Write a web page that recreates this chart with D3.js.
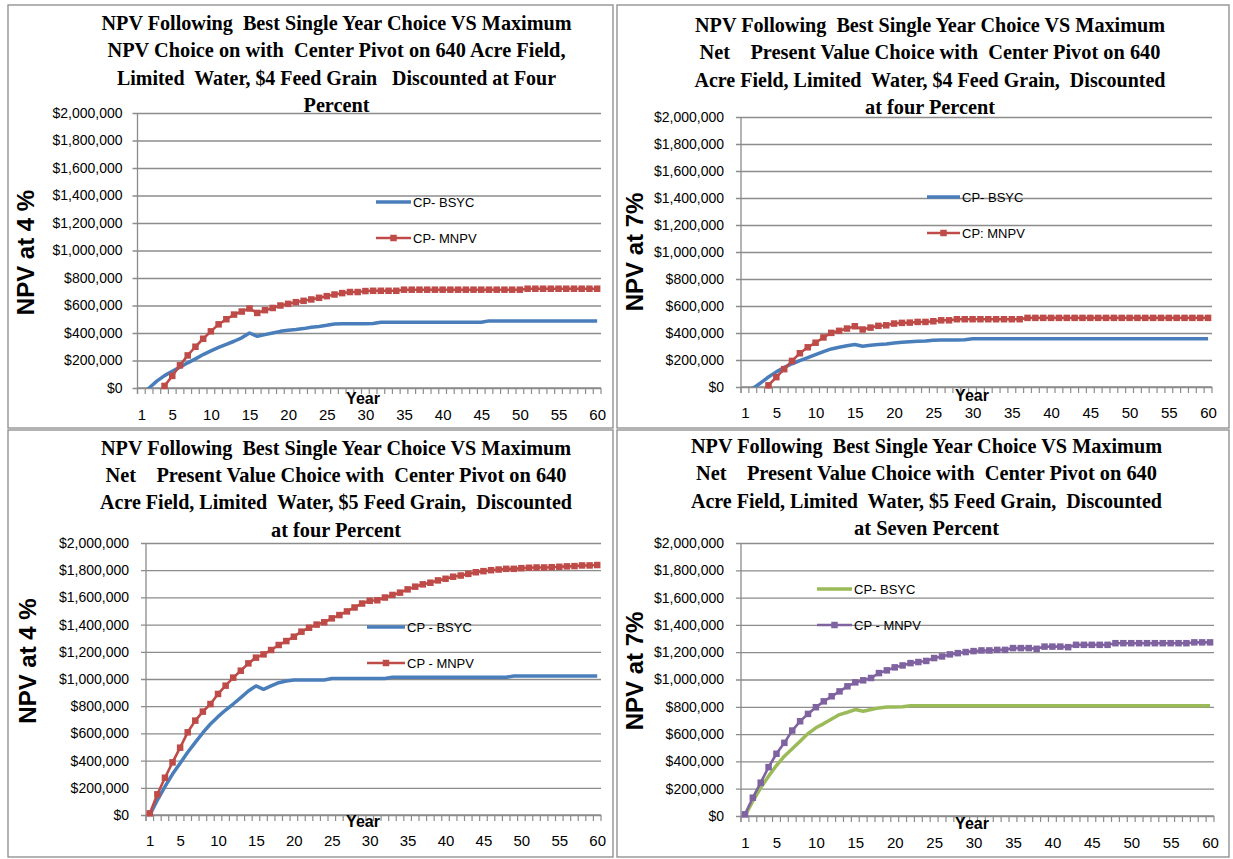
<!DOCTYPE html>
<html><head><meta charset="utf-8">
<script src="https://cdn.jsdelivr.net/npm/d3@7/dist/d3.min.js"></script>
<style>
body{margin:0;background:#fff;}
svg{display:block;}
text{white-space:pre;}
</style></head><body>
<svg id="c" width="1233" height="859"></svg>
<script>
// ---------- DATA ----------
const years = [1,2,3,4,5,6,7,8,9,10,11,12,13,14,15,16,17,18,19,20,21,22,23,24,25,26,27,28,29,30,
  31,32,33,34,35,36,37,38,39,40,41,42,43,44,45,46,47,48,49,50,51,52,53,54,55,56,57,58,59,60];
const xTickLabels = [1,5,10,15,20,25,30,35,40,45,50,55,60];
const yTicks = [0,200000,400000,600000,800000,1000000,1200000,1400000,1600000,1800000,2000000];

const p1Bsyc = [-45000,0,50000,90000,122000,152000,183000,212000,243000,270000,
  295000,318000,340000,365000,400000,376000,388000,400000,412000,420000,
  425000,432000,442000,448000,456000,466000,468000,468000,468000,468000,
  469000,478000,478000,478000,478000,478000,478000,478000,478000,478000,
  478000,478000,478000,478000,478000,488000,488000,488000,488000,488000,
  488000,488000,488000,488000,488000,488000,488000,488000,488000,488000];
const p1Mnpv = [-220000,-140000,-60000,15000,88000,165000,237000,300000,358000,412000,
  463000,500000,534000,556000,578000,546000,566000,582000,600000,612000,
  624000,634000,644000,656000,668000,680000,690000,698000,698000,705000,
  707000,707000,707000,707000,715000,715000,715000,715000,715000,715000,
  715000,715000,715000,715000,715000,715000,715000,715000,715000,715000,
  722000,722000,722000,722000,722000,722000,722000,722000,722000,722000];

const p2Bsyc = [-40000,-10000,30000,74000,112000,145000,172000,196000,217000,240000,
  262000,282000,295000,306000,315000,302000,310000,314000,318000,326000,
  331000,336000,338000,341000,346000,348000,348000,348000,350000,357000,
  357000,357000,357000,357000,357000,357000,357000,357000,357000,357000,
  357000,357000,357000,357000,357000,357000,357000,357000,357000,357000,
  357000,357000,357000,357000,357000,357000,357000,357000,357000,357000];
const p2Mnpv = [-190000,-120000,-55000,12000,73000,132000,193000,250000,294000,328000,
  367000,401000,416000,433000,450000,426000,440000,453000,457000,470000,
  475000,477000,482000,482000,487000,494000,494000,502000,502000,502000,
  502000,502000,502000,502000,502000,502000,512000,512000,512000,512000,
  512000,512000,512000,512000,512000,512000,512000,512000,512000,512000,
  512000,512000,512000,512000,512000,512000,512000,512000,512000,512000];

const p3Bsyc = [0,110000,208000,301000,380000,461000,534000,605000,669000,723000,
  772000,816000,863000,912000,949000,924000,949000,973000,985000,993000,
  993000,993000,993000,993000,1003000,1003000,1003000,1003000,1003000,1003000,
  1003000,1003000,1013000,1013000,1013000,1013000,1013000,1013000,1013000,1013000,
  1013000,1013000,1013000,1013000,1013000,1013000,1013000,1013000,1022000,1022000,
  1022000,1022000,1022000,1022000,1022000,1022000,1022000,1022000,1022000,1022000];
const p3Mnpv = [12000,152000,274000,387000,495000,608000,694000,760000,816000,890000,
  951000,1010000,1061000,1115000,1157000,1181000,1213000,1250000,1279000,1311000,
  1348000,1377000,1400000,1417000,1446000,1470000,1497000,1526000,1555000,1575000,
  1579000,1599000,1618000,1635000,1659000,1679000,1696000,1708000,1725000,1737000,
  1752000,1761000,1773000,1785000,1793000,1800000,1805000,1810000,1810000,1815000,
  1818000,1820000,1820000,1822000,1825000,1828000,1830000,1835000,1835000,1838000];

const p4Bsyc = [0,110000,207000,292000,370000,438000,492000,548000,604000,646000,
  677000,711000,743000,760000,780000,767000,780000,792000,799000,799000,
  800000,808000,808000,808000,808000,808000,808000,808000,808000,808000,
  808000,808000,808000,808000,808000,808000,808000,808000,808000,808000,
  808000,808000,808000,808000,808000,808000,808000,808000,808000,808000,
  808000,808000,808000,808000,808000,808000,808000,808000,808000,808000];
const p4Mnpv = [12000,134000,244000,358000,456000,536000,626000,694000,748000,797000,
  840000,877000,913000,950000,979000,994000,1011000,1047000,1067000,1089000,
  1103000,1120000,1128000,1136000,1157000,1169000,1184000,1193000,1201000,1208000,
  1213000,1213000,1217000,1217000,1230000,1230000,1230000,1225000,1241000,1241000,
  1241000,1237000,1254000,1254000,1254000,1254000,1254000,1266000,1266000,1266000,
  1266000,1266000,1266000,1266000,1266000,1266000,1266000,1272000,1272000,1272000];

const titles1 = ["NPV Following  Best Single Year Choice VS Maximum",
  "NPV Choice on with  Center Pivot on 640 Acre Field,",
  "Limited  Water, $4 Feed Grain   Discounted at Four",
  "Percent"];
const titles2 = ["NPV Following  Best Single Year Choice VS Maximum",
  "Net    Present Value Choice with  Center Pivot on 640",
  "Acre Field, Limited  Water, $4 Feed Grain,  Discounted",
  "at four Percent"];
const titles3 = ["NPV Following  Best Single Year Choice VS Maximum",
  "Net    Present Value Choice with  Center Pivot on 640",
  "Acre Field, Limited  Water, $5 Feed Grain,  Discounted",
  "at four Percent"];
const titles4 = ["NPV Following  Best Single Year Choice VS Maximum",
  "Net    Present Value Choice with  Center Pivot on 640",
  "Acre Field, Limited  Water, $5 Feed Grain,  Discounted",
  "at Seven Percent"];

const legend1 = ["CP- BSYC","CP- MNPV"];
const legend2 = ["CP- BSYC","CP: MNPV"];
const legend3 = ["CP - BSYC","CP - MNPV"];
const legend4 = ["CP- BSYC","CP - MNPV"];

const yTitles = ["NPV at 4 %","NPV at 7%","NPV at 4 %","NPV at 7%"];
const xTitle = "Year";

// ---------- LAYOUT / STYLE ----------
const BLUE = "#4a7ebb", RED = "#be4b48", GREEN = "#9bbb59", PURPLE = "#7f63a1";
const GRID = "#8c8c8c";

const panels = [
  {border:[8,5,613,428], plot:{l:137.5,r:601,t:113,b:388}, titleX:336.5, titleY:[23,50,78,105], titleW:[470,458,439,66],
   titles:titles1, yTitle:yTitles[0], yTitleX:25.5, yTitleY:252.5, yearX:363, yearY:398, xLabY:415, yPad:15,
   legX1:376, legX2:411, legY:[202,238], legend:legend1, series:[p1Bsyc,p1Mnpv], colors:[BLUE,RED]},
  {border:[617,5,1229,428], plot:{l:741,r:1212,t:117,b:387}, titleX:930, titleY:[25,52,80,107], titleW:[470,461,471,130],
   titles:titles2, yTitle:yTitles[1], yTitleX:634, yTitleY:252, yearX:972, yearY:395, xLabY:413, yPad:17,
   legX1:927, legX2:960, legY:[197,233], legend:legend2, series:[p2Bsyc,p2Mnpv], colors:[BLUE,RED]},
  {border:[8,430,613,857], plot:{l:146,r:601,t:543,b:815}, titleX:336, titleY:[448,475,502,530], titleW:[470,461,472,130],
   titles:titles3, yTitle:yTitles[2], yTitleX:27.5, yTitleY:661, yearX:363, yearY:821, xLabY:841, yPad:17,
   legX1:367, legX2:405, legY:[627,663], legend:legend3, series:[p3Bsyc,p3Mnpv], colors:[BLUE,RED]},
  {border:[617,430,1229,857], plot:{l:741,r:1214,t:543,b:816}, titleX:926.5, titleY:[446,473,501,528], titleW:[471,461,471,145],
   titles:titles4, yTitle:yTitles[3], yTitleX:634, yTitleY:671, yearX:972, yearY:823, xLabY:843, yPad:17,
   legX1:817, legX2:852, legY:[589,625], legend:legend4, series:[p4Bsyc,p4Mnpv], colors:[GREEN,PURPLE]}
];

const svg = d3.select("#c");
svg.append("rect").attr("width",1233).attr("height",859).attr("fill","#fff");

panels.forEach((p, pi) => {
  const g = svg.append("g");
  const {l,r,t,b} = p.plot;
  // panel border
  g.append("rect").attr("x",p.border[0]).attr("y",p.border[1])
    .attr("width",p.border[2]-p.border[0]).attr("height",p.border[3]-p.border[1])
    .attr("fill","none").attr("stroke","#8a8a8a").attr("stroke-width",1.3);

  const x = d3.scalePoint().domain(years).range([l,r]).padding(0.5);
  const xb = d3.scaleBand().domain(years).range([l,r]);
  const y = d3.scaleLinear().domain([0,2000000]).range([b,t]);

  // y axis with gridlines
  const ya = g.append("g").attr("transform",`translate(${l},0)`)
    .call(d3.axisLeft(y).tickValues(yTicks).tickSize(-(r-l)).tickPadding(p.yPad)
      .tickFormat(d => "$" + d3.format(",")(d)));
  ya.select(".domain").remove();
  ya.selectAll(".tick line").attr("x1",-5).attr("stroke",GRID).attr("stroke-width",1.3);
  ya.selectAll(".tick text").attr("font-family","Liberation Sans, Arial, sans-serif")
    .attr("font-size",14).attr("fill","#000");

  // axis lines
  g.append("line").attr("x1",l).attr("x2",l).attr("y1",t).attr("y2",b+6)
    .attr("stroke",GRID).attr("stroke-width",1.3);
  g.append("line").attr("x1",l).attr("x2",r).attr("y1",b).attr("y2",b)
    .attr("stroke",GRID).attr("stroke-width",1.3);
  const bounds = years.map(d => xb(d)).concat([xb(years[years.length-1]) + xb.bandwidth()]);
  g.append("g").selectAll("line").data(bounds).join("line")
    .attr("x1",d=>d).attr("x2",d=>d).attr("y1",b).attr("y2",b+6)
    .attr("stroke",GRID).attr("stroke-width",1.2);

  // x tick labels
  const xa = g.append("g").attr("transform",`translate(0,${b})`)
    .call(d3.axisBottom(x).tickValues(xTickLabels).tickSize(0));
  xa.select(".domain").remove();
  xa.selectAll(".tick text").attr("y", p.xLabY - b).attr("dy","0.36em")
    .attr("font-family","Liberation Sans, Arial, sans-serif").attr("font-size",15).attr("fill","#000");

  // clip for lines
  const cid = "clip"+pi;
  g.append("clipPath").attr("id",cid).append("rect")
    .attr("x",l-10).attr("y",t-10).attr("width",r-l+20).attr("height",b-t+10);

  const line = d3.line().x((d,i)=>x(years[i])).y(d=>y(d));

  // BSYC
  g.append("path").datum(p.series[0]).attr("d",line).attr("clip-path",`url(#${cid})`)
    .attr("fill","none").attr("stroke",p.colors[0]).attr("stroke-width",3.5).attr("stroke-linejoin","round");
  // MNPV
  g.append("path").datum(p.series[1]).attr("d",line).attr("clip-path",`url(#${cid})`)
    .attr("fill","none").attr("stroke",p.colors[1]).attr("stroke-width",2.6).attr("stroke-linejoin","round");
  const ms = 6.5;
  g.append("g").selectAll("rect")
    .data(p.series[1].map((v,i)=>({v, yr:years[i]})).filter(d => d.v >= 0))
    .join("rect")
    .attr("x",d=>x(d.yr)-ms/2).attr("y",d=>y(d.v)-ms/2).attr("width",ms).attr("height",ms)
    .attr("fill",p.colors[1]);

  // legend
  p.legend.forEach((lab,k) => {
    const ly = p.legY[k];
    g.append("line").attr("x1",p.legX1).attr("x2",p.legX2).attr("y1",ly).attr("y2",ly)
      .attr("stroke",p.colors[k]).attr("stroke-width",k===0?3.5:2.6);
    if (k===1) {
      g.append("rect").attr("x",(p.legX1+p.legX2)/2-ms/2).attr("y",ly-ms/2)
        .attr("width",ms).attr("height",ms).attr("fill",p.colors[1]);
    }
    g.append("text").attr("x",p.legX2+2).attr("y",ly).attr("dy","0.36em")
      .attr("font-family","Liberation Sans, Arial, sans-serif").attr("font-size",13).attr("fill","#000")
      .text(lab);
  });

  // title
  p.titles.forEach((s,k) => {
    g.append("text").attr("x",p.titleX).attr("y",p.titleY[k]+7)
      .attr("text-anchor","middle")
      .attr("font-family","Liberation Serif, Times New Roman, serif").attr("font-weight","bold")
      .attr("font-size",21).attr("fill","#000")
      .attr("textLength",p.titleW[k]).attr("lengthAdjust","spacingAndGlyphs")
      .text(s);
  });

  // y title
  g.append("text").attr("transform",`translate(${p.yTitleX},${p.yTitleY}) rotate(-90)`)
    .attr("text-anchor","middle").attr("dy","0.36em")
    .attr("font-family","Liberation Sans, Arial, sans-serif").attr("font-weight","bold")
    .attr("font-size",24).attr("fill","#000").text(p.yTitle);

  // x title
  g.append("text").attr("x",p.yearX).attr("y",p.yearY).attr("dy","0.36em")
    .attr("text-anchor","middle")
    .attr("font-family","Liberation Sans, Arial, sans-serif").attr("font-weight","bold")
    .attr("font-size",16).attr("fill","#000").text(xTitle);
});
</script>
</body></html>
